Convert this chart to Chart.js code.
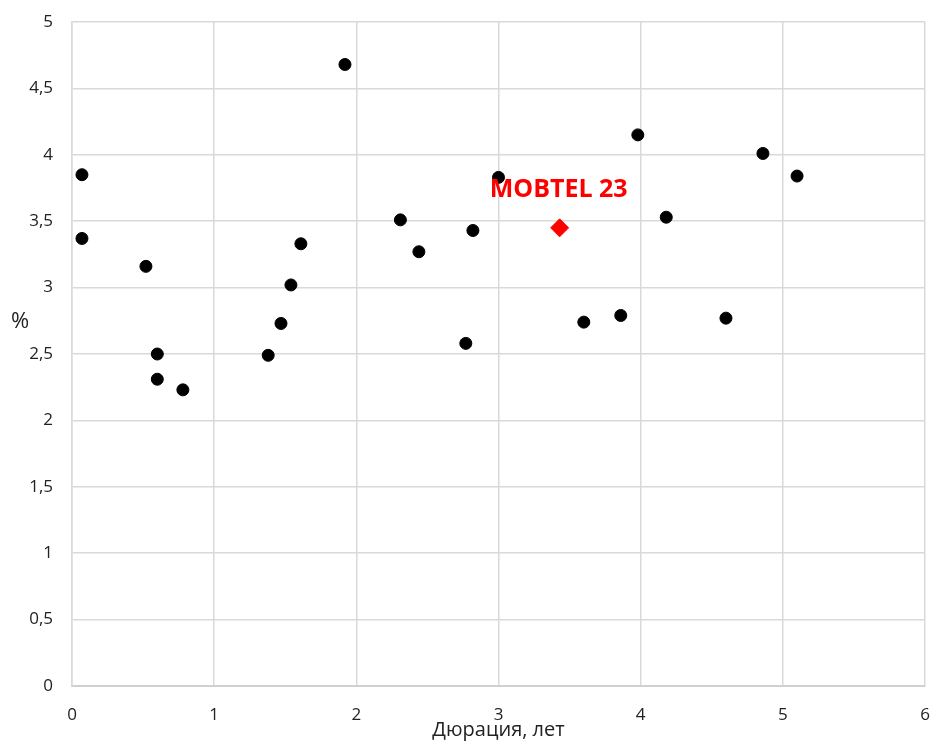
<!DOCTYPE html>
<html>
<head>
<meta charset="utf-8">
<script src="https://cdn.jsdelivr.net/npm/chart.js@4"></script>
<style>
  body { margin: 0; background: #fff; }
  #wrap { width: 935px; height: 742px; }
</style>
</head>
<body>
<div id="wrap"><canvas id="myChart" width="935" height="742"></canvas></div>
<script>
// bonds: duration (years) and yield (%)
let durations = [0.07, 0.07, 0.52, 0.60, 0.60, 0.78, 1.38, 1.47, 1.54, 1.61, 1.92, 2.31, 2.44, 2.77, 2.82, 3.00, 3.60, 3.86, 3.98, 4.18, 4.60, 4.86, 5.10];
let yields    = [3.85, 3.37, 3.16, 2.50, 2.31, 2.23, 2.49, 2.73, 3.02, 3.33, 4.68, 3.51, 3.27, 2.58, 3.43, 3.83, 2.74, 2.79, 4.15, 3.53, 2.77, 4.01, 3.84];
let highlightName = "MOBTEL 23";
let highlightX = [3.43];
let highlightY = [3.45];
let xTitle = "Дюрация, лет";
let yTitle = "%";

let fontFamily = "'Open Sans', 'Noto Sans', sans-serif";
let comma = v => String(v).replace('.', ',');

let labelPlugin = {
    id: 'labels',
    afterDatasetsDraw(chart) {
        let ctx = chart.ctx;
        let meta = chart.getDatasetMeta(1);
        let pt = meta.data[0];
        ctx.save();
        ctx.fillStyle = '#ff0000';
        ctx.font = "bold 25px " + fontFamily;
        ctx.textAlign = 'center';
        ctx.textBaseline = 'middle';
        ctx.fillText(highlightName, pt.x - 1, pt.y - 38);
        ctx.fillStyle = '#222';
        ctx.font = "22px " + fontFamily;
        ctx.fillText(yTitle, 20, 322);
        ctx.restore();
    }
};

var ctx = document.getElementById('myChart').getContext('2d');
var chart = new Chart(ctx, {
    type: 'scatter',
    data: {
        datasets: [{
            data: durations.map((x, i) => ({ x: x, y: yields[i] })),
            backgroundColor: '#000',
            borderColor: '#000',
            pointRadius: 6,
            pointHoverRadius: 6
        }, {
            data: highlightX.map((x, i) => ({ x: x, y: highlightY[i] })),
            backgroundColor: '#ff0000',
            borderColor: '#ff0000',
            pointStyle: 'rectRot',
            pointRadius: 9,
            pointHoverRadius: 9
        }]
    },
    options: {
        responsive: false,
        animation: false,
        events: [],
        layout: { padding: { top: 22, right: 5, left: 0, bottom: 0 } },
        plugins: { legend: { display: false }, tooltip: { enabled: false } },
        scales: {
            x: {
                type: 'linear', min: 0, max: 6,
                afterFit: s => { s.height = 56; s.paddingLeft = 0; s.paddingRight = 0; },
                grid: { color: '#d9d9d9', lineWidth: 1.5, drawTicks: false },
                border: { color: '#d0d0d0', width: 2 },
                ticks: { stepSize: 1, padding: 19, color: '#222', font: { size: 17, family: fontFamily } },
                title: { display: true, text: xTitle, color: '#222', padding: 0, font: { size: 20, family: fontFamily } }
            },
            y: {
                type: 'linear', min: 0, max: 5,
                afterFit: s => { s.width = 72; s.paddingTop = 0; s.paddingBottom = 0; },
                grid: { color: '#d9d9d9', lineWidth: 1.5, drawTicks: false },
                border: { color: '#d9d9d9', width: 1.5 },
                ticks: { stepSize: 0.5, padding: 19, color: '#222', font: { size: 17, family: fontFamily }, callback: v => comma(v) }
            }
        }
    },
    plugins: [labelPlugin]
});
</script>
</body>
</html>
